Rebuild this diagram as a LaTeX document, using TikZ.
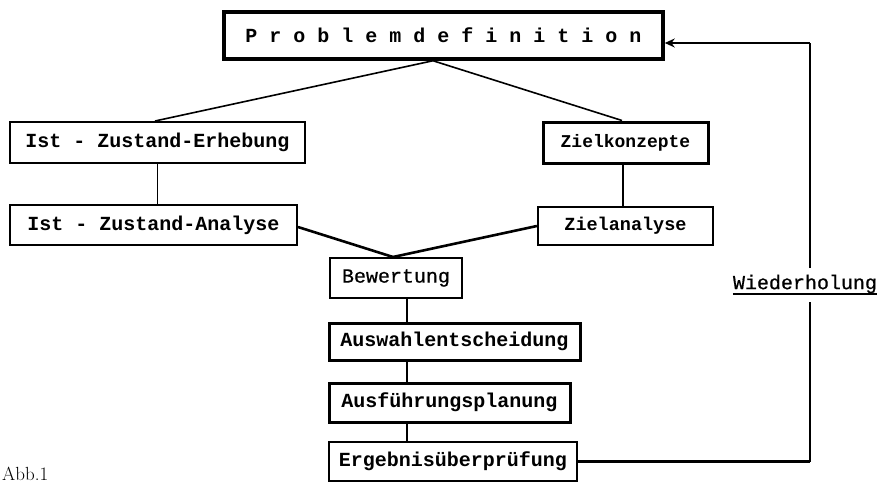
\documentclass[tikz,border=0pt]{standalone}
\usepackage{fontspec}
\usetikzlibrary{arrows.meta}
\newfontfamily\tw{Liberation Mono}
\newfontfamily\twl[FakeBold=0.6]{Liberation Mono}
\begin{document}
\begin{tikzpicture}[x=1pt,y=-1pt,
  box/.style={draw, inner sep=0pt, font=\tw\bfseries\fontsize{20}{20}\selectfont},
  lightbox/.style={draw, inner sep=0pt, font=\twl\fontsize{20}{20}\selectfont},
  con/.style={line width=1.3pt},
  diag/.style={line width=1.6pt},
  diagb/.style={line width=2.6pt},
  loopline/.style={line width=1.3pt}]
\useasboundingbox (0,0) rectangle (879,482);

\node[box, line width=3.5pt, minimum width=439pt, minimum height=47pt] (pd) at (443.5,35.5)
  {P r o b l e m d e f i n i t i o n};
\node[box, line width=2pt, minimum width=295pt, minimum height=41pt] (er) at (157.5,142.5)
  {Ist - Zustand-Erhebung};
\node[box, line width=2pt, minimum width=287pt, minimum height=40pt] (an) at (153.5,225)
  {Ist - Zustand-Analyse};
\node[box, line width=3pt, minimum width=165pt, minimum height=41pt,
  font=\tw\bfseries\fontsize{18}{18}\selectfont] (zk) at (625.5,142.5) {Zielkonzepte};
\node[box, line width=2.2pt, minimum width=175pt, minimum height=38pt,
  font=\tw\bfseries\fontsize{18.5}{18.5}\selectfont] (za) at (625.5,226) {Zielanalyse};
\node[lightbox, line width=2pt, minimum width=132pt, minimum height=40pt] (bw) at (396,278)
  {Bewertung};
\node[box, line width=3pt, minimum width=251pt, minimum height=37pt] (aw) at (454.5,341.5)
  {Auswahlentscheidung};
\node[box, line width=3pt, minimum width=241pt, minimum height=39pt] (af) at (449.5,402.5)
  {Ausführungsplanung};
\node[box, line width=2.5pt, minimum width=248pt, minimum height=39pt] (eg) at (453,461.5)
  {Ergebnisüberprüfung};

\node[inner sep=0pt, font=\twl\fontsize{20}{20}\selectfont] (wd) at (805,284) {Wiederholung};
\draw[line width=2.6pt] ([yshift=-5pt]wd.base west) -- ([yshift=-5pt]wd.base east);

\node[anchor=base west, inner sep=0pt, font=\fontsize{19}{19}\selectfont] (abb) at (2,480) {Abb.1};

% connectors
\draw[diag] ([xshift=-10.5pt]pd.south) -- ([xshift=-2.5pt]er.north);
\draw[diag] ([xshift=-10.5pt]pd.south) -- ([xshift=-3.5pt]zk.north);
\draw[con] (er.south) -- (an.north -| er.south);
\draw[con] ([xshift=-2.5pt]zk.south) -- ([xshift=-2.5pt]za.north -| zk.south);
\draw[diagb] ([yshift=-2pt]an.east) -- ([xshift=-3pt]bw.north);
\draw[diagb] (za.west) -- ([xshift=-3pt]bw.north);
\coordinate (cx) at (407,0);
\draw[con] (bw.south -| cx) -- (aw.north -| cx);
\draw[con] (aw.south -| cx) -- (af.north -| cx);
\draw[con] (af.south -| cx) -- (eg.north -| cx);

% loop
\coordinate (tr) at (810,43);
\coordinate (br) at (810,461.5);
\coordinate (gt) at (810,268);
\coordinate (gb) at (810,302);
\draw[line width=2.4pt] (eg.east) -- (br);
\draw[loopline] (br) -- (gb);
\draw[loopline] (gt) -- (tr);
\draw[line width=1.8pt, -{Stealth[length=10pt,width=9pt]}] (tr) -- (pd.east |- tr);
\end{tikzpicture}
\end{document}
